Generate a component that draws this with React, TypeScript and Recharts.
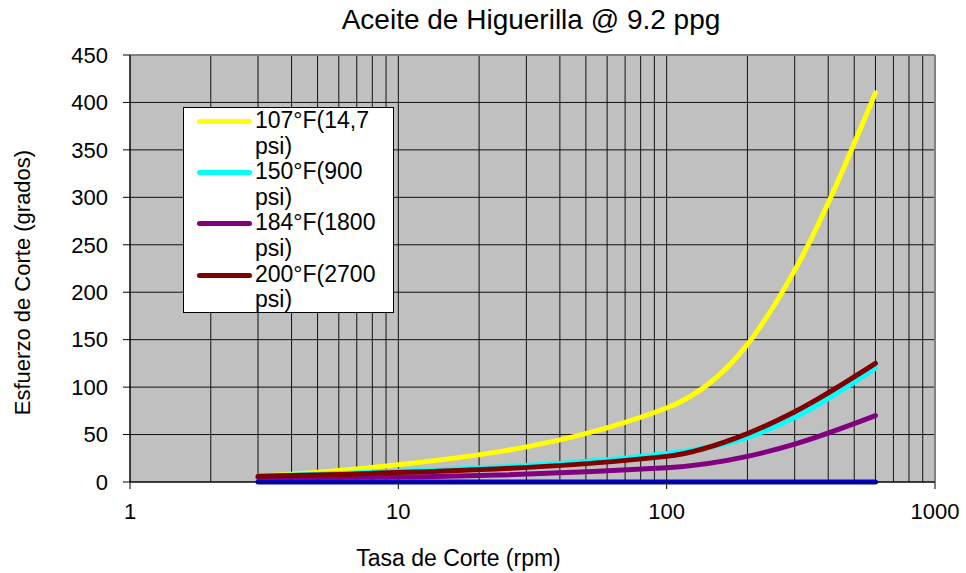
import {
  LineChart,
  Line,
  XAxis,
  YAxis,
  CartesianGrid,
  Label,
  ReferenceLine,
} from 'recharts'

// velocidades del viscosímetro (rpm)
const rpm = [3, 6, 100, 200, 300, 600]

// lecturas de esfuerzo de corte (grados) por temperatura / presión
const lect107 = [6, 12, 78, 145, 223, 410]
const lect150 = [6, 9, 30, 47, 68, 120]
const lect184 = [5, 5, 15, 27, 40, 70]
const lect200 = [6, 8, 27, 51, 74, 125]
const lectBase = [0, 0, 0, 0, 0, 0]

const seriesNames = [
  '107°F(14,7 psi)',
  '150°F(900 psi)',
  '184°F(1800 psi)',
  '200°F(2700 psi)',
]
const seriesKeys = ['s107', 's150', 's184', 's200']
const seriesColors = ['#FFFF00', '#00FFFF', '#800080', '#800000']

const decadeTicks = [1, 10, 100, 1000]
const gridTicksX = [
  1, 2, 3, 4, 5, 6, 7, 8, 9,
  10, 20, 30, 40, 50, 60, 70, 80, 90,
  100, 200, 300, 400, 500, 600, 700, 800, 900,
  1000,
]
const yTicks = [0, 50, 100, 150, 200, 250, 300, 350, 400, 450]

const data = rpm.map((r, i) => ({
  rpm: r,
  s107: lect107[i],
  s150: lect150[i],
  s184: lect184[i],
  s200: lect200[i],
  base: lectBase[i],
}))

const FONT = '"Liberation Sans", Arial, sans-serif'

// solo las décadas llevan marca y etiqueta; el resto de ticks sirve para la rejilla
function RpmTick(props: any) {
  const { x, y, payload } = props
  if (!decadeTicks.includes(payload.value)) return <g />
  return (
    <g>
      <line x1={x} x2={x} y1={y - 21} y2={y - 14} stroke="#000" />
      <text x={x} y={y} dy="0.71em" textAnchor="middle" fontSize={22} fill="#000">
        {payload.value}
      </text>
    </g>
  )
}

function LegendBox() {
  return (
    <div
      style={{
        position: 'absolute',
        left: 183,
        top: 107,
        width: 211,
        height: 206,
        boxSizing: 'border-box',
        background: '#fff',
        border: '1px solid #000',
        fontSize: 23,
        color: '#000',
      }}
    >
      {seriesNames.map((name, i) => {
        const cut = name.lastIndexOf(' ')
        return (
          <div key={name} style={{ position: 'relative', height: 51.2 }}>
            <div
              style={{
                position: 'absolute',
                left: 13,
                top: 11,
                width: 55,
                height: 5,
                borderRadius: 3,
                background: seriesColors[i],
              }}
            />
            <div style={{ position: 'absolute', left: 71, top: 0, lineHeight: '25.6px' }}>
              <div>{name.slice(0, cut)}</div>
              <div>{name.slice(cut + 1)}</div>
            </div>
          </div>
        )
      })}
    </div>
  )
}

export default function App() {
  return (
    <div style={{ position: 'absolute', left: 0, top: 0, width: 966, height: 573, fontFamily: FONT }}>
      <div
        style={{
          position: 'absolute',
          left: 131,
          width: 800,
          top: 6,
          textAlign: 'center',
          fontSize: 28,
          lineHeight: '28px',
          color: '#000',
        }}
      >
        Aceite de Higuerilla @ 9.2 ppg
      </div>
      <LineChart
        width={966}
        height={573}
        data={data}
        margin={{ top: 55, right: 31, bottom: 0, left: 0 }}
        style={{ fontFamily: FONT }}
      >
        <CartesianGrid fill="#C0C0C0" stroke="#111" strokeWidth={1} />
        <XAxis
          dataKey="rpm"
          type="number"
          scale="log"
          domain={[1, 1000]}
          ticks={gridTicksX}
          interval={0}
          allowDataOverflow
          height={91}
          tickSize={7}
          tickMargin={14}
          tickLine={false}
          axisLine={{ stroke: '#000' }}
          tick={<RpmTick />}
        >
          <Label
            value="Tasa de Corte (rpm)"
            position="insideBottom"
            offset={7}
            dx={-74}
            fontSize={23}
            fill="#000"
          />
        </XAxis>
        <YAxis
          type="number"
          domain={[0, 450]}
          ticks={yTicks}
          interval={0}
          width={130}
          tickSize={7}
          tickMargin={15}
          axisLine={{ stroke: '#000' }}
          tickLine={{ stroke: '#000' }}
          tick={{ fontSize: 22, fill: '#000' }}
        >
          <Label
            value="Esfuerzo de Corte (grados)"
            position="center"
            angle={-90}
            dx={-43}
            dy={14}
            fontSize={22}
            fill="#000"
          />
        </YAxis>
        <ReferenceLine y={450} stroke="#808080" strokeWidth={2} />
        <ReferenceLine x={1000} stroke="#808080" strokeWidth={2} />
        {seriesKeys.map((key, i) => (
          <Line
            key={key}
            dataKey={key}
            name={seriesNames[i]}
            type="monotone"
            stroke={seriesColors[i]}
            strokeWidth={5}
            strokeLinecap="round"
            dot={false}
            activeDot={false}
            isAnimationActive={false}
          />
        ))}
        <Line
          dataKey="base"
          type="monotone"
          stroke="#0000DD"
          strokeWidth={5}
          strokeLinecap="round"
          dot={false}
          activeDot={false}
          isAnimationActive={false}
        />
      </LineChart>
      <LegendBox />
    </div>
  )
}
